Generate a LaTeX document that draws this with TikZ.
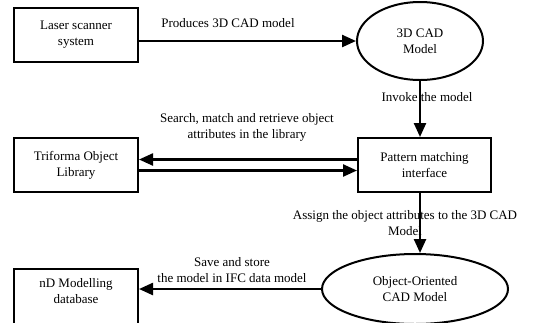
\documentclass[tikz,border=0pt]{standalone}
\usepackage{fontspec}
\setmainfont{Liberation Serif}
\usepackage{tikz}
\usetikzlibrary{arrows.meta}
\usetikzlibrary{shapes.geometric}
\tikzset{
    tnode/.style = {align=center, inner sep=0pt, text centered, font=\fontsize{13}{16}\selectfont},
    box_node/.style = {tnode, rectangle, draw=black, line width=2pt, minimum width=124pt, minimum height=54pt},
    oval_node/.style = {tnode, ellipse, draw=black, line width=2pt},
    text_node/.style = {tnode}
}

\begin{document}
\begin{tikzpicture}[x=1pt, y=-1pt, line width=2.4pt, >={Triangle[length=14pt,width=12pt]}]
    \useasboundingbox (0,0) rectangle (534,322);
    \clip (0,0) rectangle (534,322);
    % left column
    \node [box_node] (laser) at (76,35) {Laser scanner\\system};
    \node [box_node] (lib) at (76,165) {Triforma Object\\Library};
    \node [box_node, anchor=north, minimum height=0pt, inner ysep=9pt, text depth=52pt] (nd) at (76,268) {nD Modelling\\database};
    % right column
    \node [oval_node, minimum width=126pt, minimum height=78pt] (cad) at (420,41) {3D CAD\\Model};
    \node [box_node, minimum width=133pt] (pm) at (424.5,165) {Pattern matching\\interface};
    \node [oval_node, minimum width=186pt, minimum height=70pt] (oo) at (415,289) {Object-Oriented\\CAD Model};
    % connectors
    \draw [->] (laser.east |- cad.west) -- (cad.west);
    \draw [->] (cad.south) -- (cad.south |- pm.north);
    \draw [->] ([yshift=5.5pt]pm.west) -- ([yshift=5.5pt]lib.east);
    \draw [->] ([yshift=-5.5pt]lib.east) -- ([yshift=-5.5pt]pm.west);
    \draw [->] (cad.south |- pm.south) -- (cad.south |- oo.north);
    \draw [->] (oo.west) -- (oo.west -| nd.east);
    % labels
    \node [text_node] (t1) at (228,23) {Produces 3D CAD model};
    \node [text_node] (t2) at (427,97) {Invoke the model};
    \node [text_node] (t3) at (247,127) {Search, match and retrieve object\\attributes in the library};
    \node [text_node] (t4) at (405,223) {Assign the object attributes to the 3D CAD\\Model};
    \node [text_node] (t5) at (232,270) {Save and store\\the model in IFC data model};
\end{tikzpicture}
\end{document}
